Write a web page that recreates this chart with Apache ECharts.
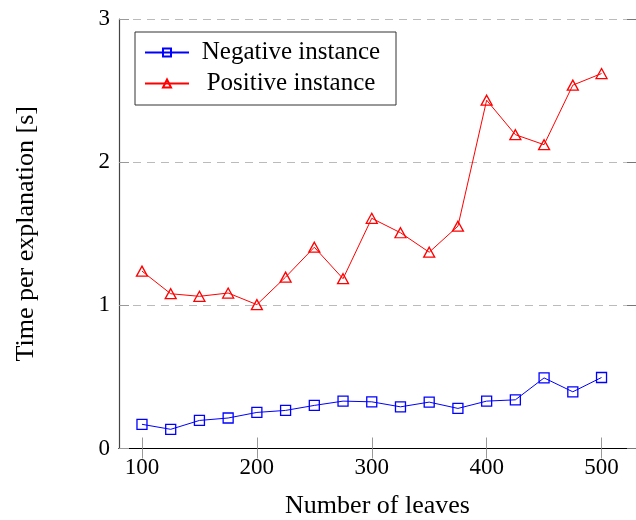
<!DOCTYPE html>
<html>
<head>
<meta charset="utf-8">
<script src="https://cdn.jsdelivr.net/npm/echarts@6/dist/echarts.min.js"></script>
<style>html,body{margin:0;padding:0;background:#fff;}#c{width:636px;height:520px;}</style>
</head>
<body>
<div id="c"></div>
<script>
const leaves = [100,125,150,175,200,225,250,275,300,325,350,375,400,425,450,475,500];
const negative = [0.169,0.134,0.196,0.213,0.252,0.266,0.301,0.331,0.326,0.291,0.324,0.280,0.331,0.340,0.493,0.396,0.496];
const positive = [1.239,1.081,1.063,1.086,1.005,1.197,1.406,1.186,1.608,1.507,1.371,1.553,2.433,2.192,2.122,2.538,2.619];
const xTicks = [100,200,300,400,500];
const yTicks = [0,1,2,3];
const seriesNames = ['Negative instance','Positive instance'];

const font = 'Liberation Serif';
const chart = echarts.init(document.getElementById('c'), null, {renderer:'canvas'});
const pair = arr => leaves.map((x,i)=>[x,arr[i]]);
chart.setOption({
  animation:false,
  backgroundColor:'#fff',
  grid:{left:119,right:0,top:19,bottom:71.5,containLabel:false,outerBoundsMode:'none'},
  legend:{
    orient:'vertical', left:135, top:32,
    borderColor:'#333', borderWidth:1, padding:[8,8,9,9],
    itemWidth:44, itemHeight:10, itemGap:6,
    backgroundColor:'#fff',
    formatter: n => '{c|' + n + '}',
    textStyle:{fontFamily:font,fontSize:25,color:'#000',
      rich:{c:{fontFamily:font,fontSize:25,color:'#000',width:194,align:'center',lineHeight:25}}},
    data:seriesNames
  },
  xAxis:[{
    type:'value', min:80, max:530,
    axisLine:{show:true,lineStyle:{color:'#444',width:1.2}},
    axisTick:{show:true,inside:true,length:11,lineStyle:{color:'#999'},customValues:xTicks},
    axisLabel:{fontFamily:font,fontSize:23,color:'#000',margin:8,customValues:xTicks},
    splitLine:{show:false},
    name:'Number of leaves', nameLocation:'middle', nameGap:45,
    nameTextStyle:{fontFamily:font,fontSize:26,color:'#000'}
  },{
    type:'value', min:80, max:530, position:'top',
    axisLine:{show:true,lineStyle:{color:'#000',width:1.2}},
    axisTick:{show:true,inside:true,length:10,lineStyle:{color:'#999'},customValues:xTicks},
    axisLabel:{show:false}, splitLine:{show:false}
  }],
  yAxis:[{
    type:'value', min:0, max:3, interval:1,
    axisLine:{show:true,lineStyle:{color:'#444',width:1.2}},
    axisTick:{show:true,inside:true,length:10,lineStyle:{color:'#999'},customValues:yTicks},
    axisLabel:{fontFamily:font,fontSize:23,color:'#000',margin:9,customValues:yTicks},
    splitLine:{show:true,lineStyle:{color:'#bbb',type:[8,6],width:1}},
    name:'Time per explanation [s]', nameLocation:'middle', nameGap:80,
    nameTextStyle:{fontFamily:font,fontSize:26,color:'#000'}
  },{
    type:'value', min:0, max:3, interval:1, position:'right',
    axisLine:{show:false},
    axisTick:{show:true,inside:true,length:9,lineStyle:{color:'#777'}},
    axisLabel:{show:false}, splitLine:{show:false}
  }],
  series:[{
    name:seriesNames[0], type:'line', data:pair(negative),
    symbol:'rect', symbolSize:10, showAllSymbol:true,
    lineStyle:{color:'#0000ff',width:1},
    itemStyle:{color:'rgba(0,0,0,0)',borderColor:'#0000ff',borderWidth:1.3}
  },{
    name:seriesNames[1], type:'line', data:pair(positive),
    symbol:'triangle', symbolSize:[11,10], showAllSymbol:true,
    lineStyle:{color:'#ff0000',width:1},
    itemStyle:{color:'rgba(0,0,0,0)',borderColor:'#ff0000',borderWidth:1.3}
  }]
});
</script>
</body>
</html>
